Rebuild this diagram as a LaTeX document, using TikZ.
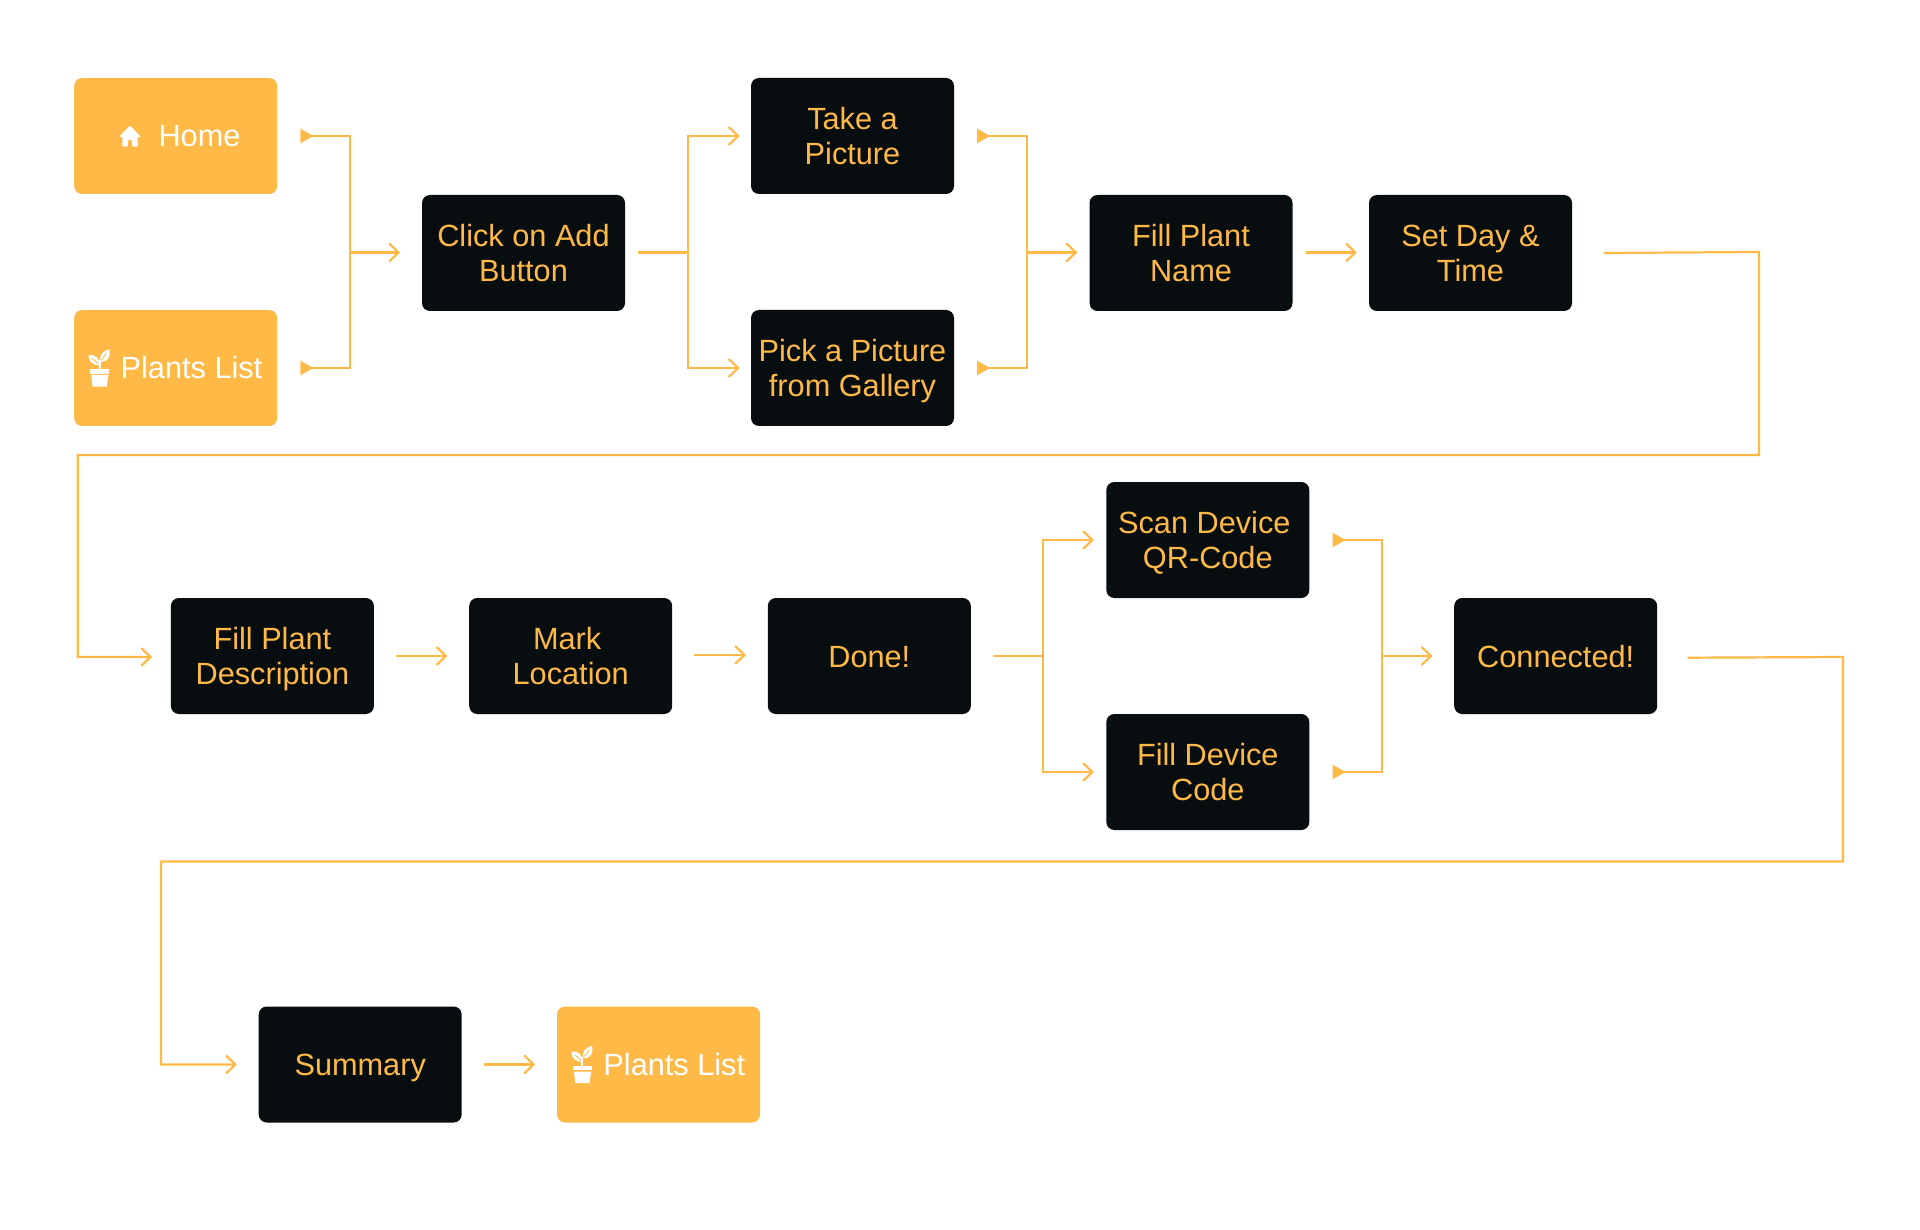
\documentclass[tikz,border=0pt]{standalone}
\usepackage{fontspec}
\setmainfont{Liberation Sans}
\usetikzlibrary{arrows.meta}
\definecolor{amber}{HTML}{FFB947}
\definecolor{ink}{HTML}{080D10}
\newcommand\tline[1]{\rule{0pt}{22pt}\smash{#1}}
\tikzset{
  base/.style={rounded corners=8pt,minimum width=203pt,minimum height=116pt,inner sep=0pt,align=center,
    font=\fontsize{30.7}{35}\selectfont},
  darkbox/.style={base,fill=ink,text=amber},
  amberbox/.style={base,fill=amber,text=white},
  wire/.style={draw=amber,line width=2.2pt},
  arr/.style={wire,-{Straight Barb[length=9pt,width=17pt,line width=2.2pt,round]}},
  startri/.style={wire,{Triangle[reversed,length=13pt,width=14pt]}-},
  houseicon/.pic={
    \fill[white,rounded corners=1pt] (0,-10.4) -- (11,1) -- (7.6,1) -- (7.6,10.7) -- (2.2,10.7) -- (2.2,4) -- (-2.2,4) -- (-2.2,10.7) -- (-7.6,10.7) -- (-7.6,1) -- (-11,1) -- cycle;
  },
  planticon/.pic={
    \fill[white] (-9.7,1) rectangle (9.7,5.7);
    \fill[white] (-8.7,7) -- (8.7,7) -- (7,18.7) -- (-7,18.7) -- cycle;
    \fill[white] (-1.2,-8) rectangle (0.8,1);
    \fill[white] (-11,-13) .. controls (-3.5,-13.5) and (0.8,-9) .. (-0.4,-2.8) .. controls (-6.5,-2.6) and (-11.5,-6) .. cycle;
    \fill[white] (9.6,-18.6) .. controls (11,-11.5) and (8.5,-6) .. (1,-6.4) .. controls (-1,-12) and (2.5,-17) .. cycle;
    \draw[amber,line width=0.8pt] (-7.5,-9.5) -- (-1.5,-4.2);
    \draw[amber,line width=0.8pt] (6.5,-14.5) -- (2,-8);
  }
}
\begin{document}
\begin{tikzpicture}[x=1pt,y=-1pt]
\useasboundingbox (0,0) rectangle (1920,1230);
\fill[white] (0,0) rectangle (1920,1230);
% row 1
\node[amberbox] (home) at (175.7,136) {\hspace*{47.6pt}\tline{Home}};
\node[amberbox] (plantsA) at (175.7,368) {\hspace*{31.6pt}\tline{Plants List}};
\node[darkbox] (click) at (523.5,253) {\tline{Click on Add}\\\tline{Button}};
\node[darkbox] (take) at (852.5,136) {\tline{Take a}\\\tline{Picture}};
\node[darkbox] (pick) at (852.5,368) {\tline{Pick a Picture}\\\tline{from Gallery}};
\node[darkbox] (name) at (1191,253) {\tline{Fill Plant}\\\tline{Name}};
\node[darkbox] (day) at (1470.5,253) {\tline{Set Day \&}\\\tline{Time}};
% row 2
\node[darkbox] (desc) at (272.4,656) {\tline{Fill Plant}\\\tline{Description}};
\node[darkbox] (mark) at (570.7,656) {\tline{Mark}\hspace*{7pt}\\\tline{Location}};
\node[darkbox] (done) at (869.3,656) {\tline{Done!}};
\node[darkbox] (scan) at (1207.8,540) {\tline{Scan Device}\hspace*{7pt}\\\tline{QR-Code}};
\node[darkbox] (device) at (1207.8,772) {\tline{Fill Device}\\\tline{Code}};
\node[darkbox] (connected) at (1555.7,656) {\tline{Connected!}};
% row 3
\node[darkbox] (summary) at (360.2,1064.5) {\tline{Summary}};
\node[amberbox] (plantsB) at (658.5,1064.5) {\hspace*{31.6pt}\tline{Plants List}};
% icons
\pic at ([xshift=-45.7pt]home.center) {houseicon};
\pic at ([xshift=-76pt]plantsA.center) {planticon};
\pic at ([xshift=-76pt]plantsB.center) {planticon};
% junctions
\coordinate (j1) at (349.7,252.5);
\coordinate (j2) at (688,252.5);
\coordinate (j3) at (1026.7,252.5);
\coordinate (j4) at (1043,656);
\coordinate (j5) at (1382,656);
\coordinate (a1) at (1759,252);
\coordinate (a2) at (1759,455);
\coordinate (a3) at (77.8,455);
\coordinate (a4) at (77.8,657);
\coordinate (b1) at (1843,657);
\coordinate (b2) at (1843,861.5);
\coordinate (b3) at (161,861.5);
\coordinate (b4) at (161,1064.5);
% connectors
\draw[startri] ([xshift=23pt]home.east) -| (j1);
\draw[startri] ([xshift=23pt]plantsA.east) -| (j1);
\draw[arr] (j1) -- ([xshift=-22pt,yshift=0.5pt]click.west);
\draw[wire] ([xshift=13pt,yshift=0.5pt]click.east) -- (j2);
\draw[arr] (j2) |- ([xshift=-11.5pt]take.west);
\draw[arr] (j2) |- ([xshift=-11.5pt]pick.west);
\draw[startri] ([xshift=23pt]take.east) -| (j3);
\draw[startri] ([xshift=23pt]pick.east) -| (j3);
\draw[arr] (j3) -- ([xshift=-12.3pt,yshift=0.5pt]name.west);
\draw[arr] ([xshift=13pt,yshift=0.5pt]name.east) -- ([xshift=-12.3pt,yshift=0.5pt]day.west);
\draw[arr] ([xshift=31.3pt]day.east) -- (a1) -- (a2) -- (a3) -- (a4) -- ([xshift=-19pt,yshift=-1pt]desc.west);
\draw[arr] ([xshift=22pt]desc.east) -- ([xshift=-22pt]mark.west);
\draw[arr] ([xshift=22pt,yshift=1pt]mark.east) -- ([xshift=-22pt,yshift=1pt]done.west);
\draw[wire] ([xshift=22pt]done.east) -- (j4);
\draw[arr] (j4) |- ([xshift=-12.6pt]scan.west);
\draw[arr] (j4) |- ([xshift=-12.6pt]device.west);
\draw[startri] ([xshift=23pt]scan.east) -| (j5);
\draw[startri] ([xshift=23pt]device.east) -| (j5);
\draw[arr] (j5) -- ([xshift=-22pt]connected.west);
\draw[arr] ([xshift=30.3pt,yshift=-1.7pt]connected.east) -- (b1) -- (b2) -- (b3) -- (b4) -- ([xshift=-22pt]summary.west);
\draw[arr] ([xshift=22pt]summary.east) -- ([xshift=-22pt]plantsB.west);
\end{tikzpicture}
\end{document}
